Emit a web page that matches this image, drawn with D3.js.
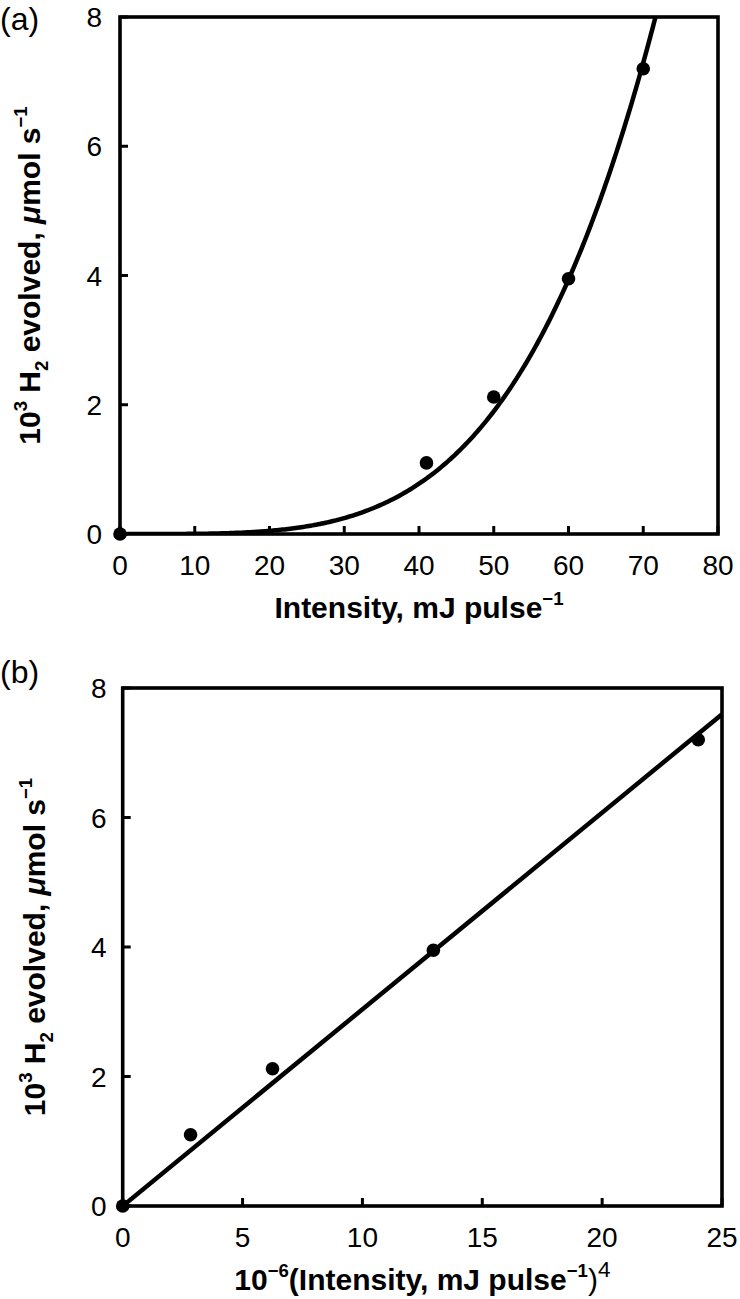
<!DOCTYPE html>
<html>
<head>
<meta charset="utf-8">
<script src="https://cdn.jsdelivr.net/npm/d3@7"></script>
<style>
	body { margin: 0; background: #fff; }
	text { font-family: "Liberation Sans", Arial, Helvetica, sans-serif; fill: #000; }
</style>
</head>
<body>
<div id="chart"></div>
<script>
// values
var intensity = [0, 41, 50, 60, 70];                 // mJ pulse-1
var intensity4 = [0, 2.83, 6.25, 12.96, 24.01];      // 10^-6 (mJ pulse-1)^4
var h2Evolved = [0, 1.1, 2.12, 3.95, 7.2];           // 10^3 umol s-1

var xTicksA = [0, 10, 20, 30, 40, 50, 60, 70, 80];
var xTicksB = [0, 5, 10, 15, 20, 25];
var yTicks = [0, 2, 4, 6, 8];

// least squares slope through origin (y against I^4)
var fitSlope = d3.sum(intensity4, function(d, i) { return d * h2Evolved[i]; }) /
	d3.sum(intensity4, function(d) { return d * d; });

var svg = d3.select("#chart").append("svg")
	.attr("width", 740)
	.attr("height", 1299);

// writes a list of pieces into a text element, handling sup/sub
function richText(sel, parts) {
	var shift = 0;
	parts.forEach(function(p) {
		var target = p.sup ? -0.42 : (p.sub ? 0.25 : 0);
		var fs = p.fs || ((p.sup || p.sub) ? 0.62 : 1);
		var ts = sel.append("tspan")
			.text(p.t)
			.attr("font-size", fs + "em")
			.attr("dy", ((target - shift) / fs) + "em");
		if (p.w) ts.attr("font-weight", p.w);
		if (p.it) ts.attr("font-style", "italic");
		shift = target;
	});
}

function drawPanel(cfg) {
	var g = svg.append("g");
	var x = d3.scaleLinear().domain(cfg.xDomain).range([cfg.left, cfg.right]);
	var y = d3.scaleLinear().domain([0, 8]).range([cfg.bottom, cfg.top]);

	var clipId = "clip" + cfg.name;
	svg.append("clipPath").attr("id", clipId)
		.append("rect")
		.attr("x", cfg.left)
		.attr("y", cfg.top)
		.attr("width", cfg.right - cfg.left)
		.attr("height", cfg.bottom - cfg.top);

	// ticks pointing inwards
	g.selectAll("line.xt")
		.data(cfg.xTicks)
		.enter()
		.append("line")
		.attr("x1", function(d) { return x(d); })
		.attr("x2", function(d) { return x(d); })
		.attr("y1", cfg.bottom)
		.attr("y2", cfg.bottom - 8)
		.attr("stroke", "#000")
		.attr("stroke-width", 3);

	g.selectAll("line.yt")
		.data(yTicks)
		.enter()
		.append("line")
		.attr("x1", cfg.left)
		.attr("x2", cfg.left + 8)
		.attr("y1", function(d) { return y(d); })
		.attr("y2", function(d) { return y(d); })
		.attr("stroke", "#000")
		.attr("stroke-width", 3);

	// frame
	g.append("rect")
		.attr("x", cfg.left)
		.attr("y", cfg.top)
		.attr("width", cfg.right - cfg.left)
		.attr("height", cfg.bottom - cfg.top)
		.attr("fill", "none")
		.attr("stroke", "#000")
		.attr("stroke-width", 3.6);

	// tick labels
	g.selectAll("text.xl")
		.data(cfg.xTicks)
		.enter()
		.append("text")
		.attr("x", function(d) { return x(d); })
		.attr("y", cfg.bottom + 41)
		.attr("text-anchor", "middle")
		.attr("font-size", 28)
		.text(function(d) { return d; });

	g.selectAll("text.yl")
		.data(yTicks)
		.enter()
		.append("text")
		.attr("x", cfg.left - cfg.yLabelGap)
		.attr("y", function(d) { return y(d) + 10; })
		.attr("text-anchor", "end")
		.attr("font-size", 28)
		.text(function(d) { return d; });

	// fit
	var line = d3.line()
		.x(function(d) { return x(d[0]); })
		.y(function(d) { return y(d[1]); });

	g.append("path")
		.datum(cfg.fit)
		.attr("d", line)
		.attr("fill", "none")
		.attr("stroke", "#000")
		.attr("stroke-width", 4.5)
		.attr("clip-path", "url(#" + clipId + ")");

	// points
	g.selectAll("circle.pt")
		.data(cfg.xs)
		.enter()
		.append("circle")
		.attr("cx", function(d) { return x(d); })
		.attr("cy", function(d, i) { return y(h2Evolved[i]); })
		.attr("r", 6.8)
		.attr("fill", "#000");

	// panel letter
	g.append("text")
		.attr("x", 0)
		.attr("y", cfg.letterY)
		.attr("font-size", 32)
		.text(cfg.letter);

	// axis titles
	var xt = g.append("text")
		.attr("x", (cfg.left + cfg.right) / 2)
		.attr("y", cfg.bottom + 84)
		.attr("text-anchor", "middle")
		.attr("font-size", 30)
		.attr("font-weight", "bold");
	richText(xt, cfg.xTitle);

	var yt = g.append("text")
		.attr("transform", "translate(" + cfg.yTitleX + "," + ((cfg.top + cfg.bottom) / 2) + ") rotate(-90)")
		.attr("text-anchor", "middle")
		.attr("font-size", 30)
		.attr("font-weight", "bold");
	richText(yt, [
		{t: "10"}, {t: "3", sup: true}, {t: " H"}, {t: "2", sub: true},
		{t: " evolved, "}, {t: "\u03bc", it: true}, {t: "mol s"}, {t: "\u22121", sup: true}
	]);
}

//
// Panel (a): rate against intensity, fit ~ I^4
//
var curveA = d3.range(0, 80.25, 0.25).map(function(I) {
	return [I, fitSlope * Math.pow(I, 4) * 1e-6];
});

drawPanel({
	name: "a", letter: "(a)", letterY: 30,
	left: 120, right: 718, top: 17, bottom: 534,
	xDomain: [0, 80], xTicks: xTicksA, xs: intensity,
	yLabelGap: 18, yTitleX: 40,
	fit: curveA,
	xTitle: [{t: "Intensity, mJ pulse"}, {t: "\u22121", sup: true}]
});

//
// Panel (b): rate against I^4, straight line
//
drawPanel({
	name: "b", letter: "(b)", letterY: 683,
	left: 122.7, right: 722, top: 688, bottom: 1206,
	xDomain: [0, 25], xTicks: xTicksB, xs: intensity4,
	yLabelGap: 16, yTitleX: 45,
	fit: [[0, 0], [25, 25 * fitSlope]],
	xTitle: [{t: "10"}, {t: "\u22126", sup: true}, {t: "(Intensity, mJ pulse"},
		{t: "\u22121", sup: true}, {t: ")", w: "normal"}, {t: "4", sup: true, w: "normal", fs: 0.75}]
});
</script>
</body>
</html>
